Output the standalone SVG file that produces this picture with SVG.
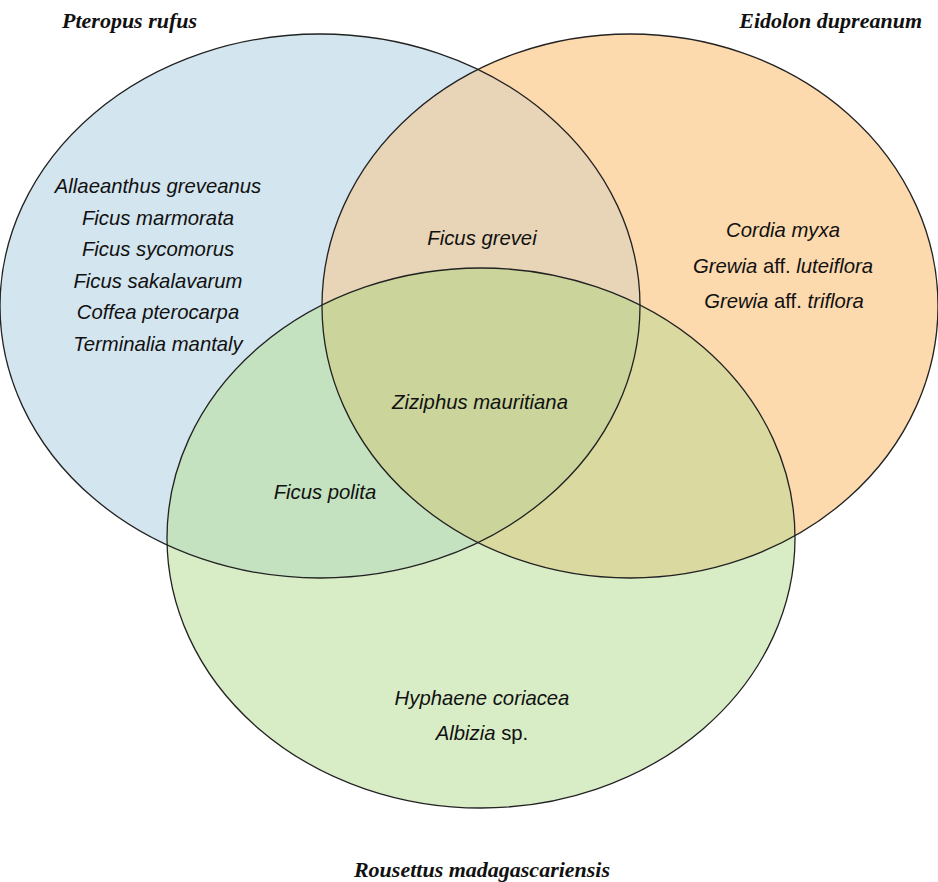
<svg xmlns="http://www.w3.org/2000/svg" width="938" height="882" viewBox="0 0 938 882">
<style>
.lbl{font-family:"Liberation Sans",Arial,sans-serif;font-size:20.3px;font-style:italic;fill:#111;text-anchor:middle}
.up{font-style:normal}
.ttl{font-family:"Liberation Serif","Times New Roman",serif;font-size:22px;font-style:italic;font-weight:bold;fill:#111}
.edge{fill:none;stroke:#222;stroke-width:1.3}
</style>
<defs>
<clipPath id="cB"><ellipse cx="320" cy="306" rx="320" ry="272"/></clipPath>
<clipPath id="cO"><ellipse cx="630" cy="306" rx="308" ry="272"/></clipPath>
<clipPath id="cG"><ellipse cx="481" cy="538" rx="314" ry="270"/></clipPath>
</defs>
<rect width="938" height="882" fill="#fff"/>
<g id="fills">
<ellipse cx="320" cy="306" rx="320" ry="272" fill="#D3E5EF"/>
<ellipse cx="630" cy="306" rx="308" ry="272" fill="#FDD9AE"/>
<ellipse cx="481" cy="538" rx="314" ry="270" fill="#D8EDC6"/>
<g clip-path="url(#cB)"><ellipse cx="630" cy="306" rx="308" ry="272" fill="#E8D4B6"/><ellipse cx="481" cy="538" rx="314" ry="270" fill="#C4E2BF"/></g>
<g clip-path="url(#cO)"><ellipse cx="481" cy="538" rx="314" ry="270" fill="#D9D9A0"/></g>
<g clip-path="url(#cO)"><g clip-path="url(#cB)"><ellipse cx="481" cy="538" rx="314" ry="270" fill="#CBD59B"/></g></g>
</g>
<g id="outlines">
<ellipse class="edge" cx="320" cy="306" rx="320" ry="272"/>
<ellipse class="edge" cx="630" cy="306" rx="308" ry="272"/>
<ellipse class="edge" cx="481" cy="538" rx="314" ry="270"/>
</g>
<g id="pteropus">
<text class="ttl" x="62" y="28">Pteropus rufus</text>
<text class="lbl" x="158" y="193">Allaeanthus greveanus</text>
<text class="lbl" x="158" y="225">Ficus marmorata</text>
<text class="lbl" x="158" y="256">Ficus sycomorus</text>
<text class="lbl" x="158" y="288">Ficus sakalavarum</text>
<text class="lbl" x="158" y="319">Coffea pterocarpa</text>
<text class="lbl" x="158" y="351">Terminalia mantaly</text>
</g>
<g id="eidolon">
<text class="ttl" x="922" y="28" text-anchor="end">Eidolon dupreanum</text>
<text class="lbl" x="783" y="237">Cordia myxa</text>
<text class="lbl" x="783" y="273">Grewia <tspan class="up">aff.</tspan> luteiflora</text>
<text class="lbl" x="784" y="308">Grewia <tspan class="up">aff.</tspan> triflora</text>
</g>
<g id="rousettus">
<text class="ttl" x="482" y="877" text-anchor="middle">Rousettus madagascariensis</text>
<text class="lbl" x="482" y="705">Hyphaene coriacea</text>
<text class="lbl" x="482" y="740">Albizia <tspan class="up">sp.</tspan></text>
</g>
<g id="overlaps">
<text class="lbl" x="482" y="245">Ficus grevei</text>
<text class="lbl" x="480" y="409">Ziziphus mauritiana</text>
<text class="lbl" x="325" y="499">Ficus polita</text>
</g>
</svg>
